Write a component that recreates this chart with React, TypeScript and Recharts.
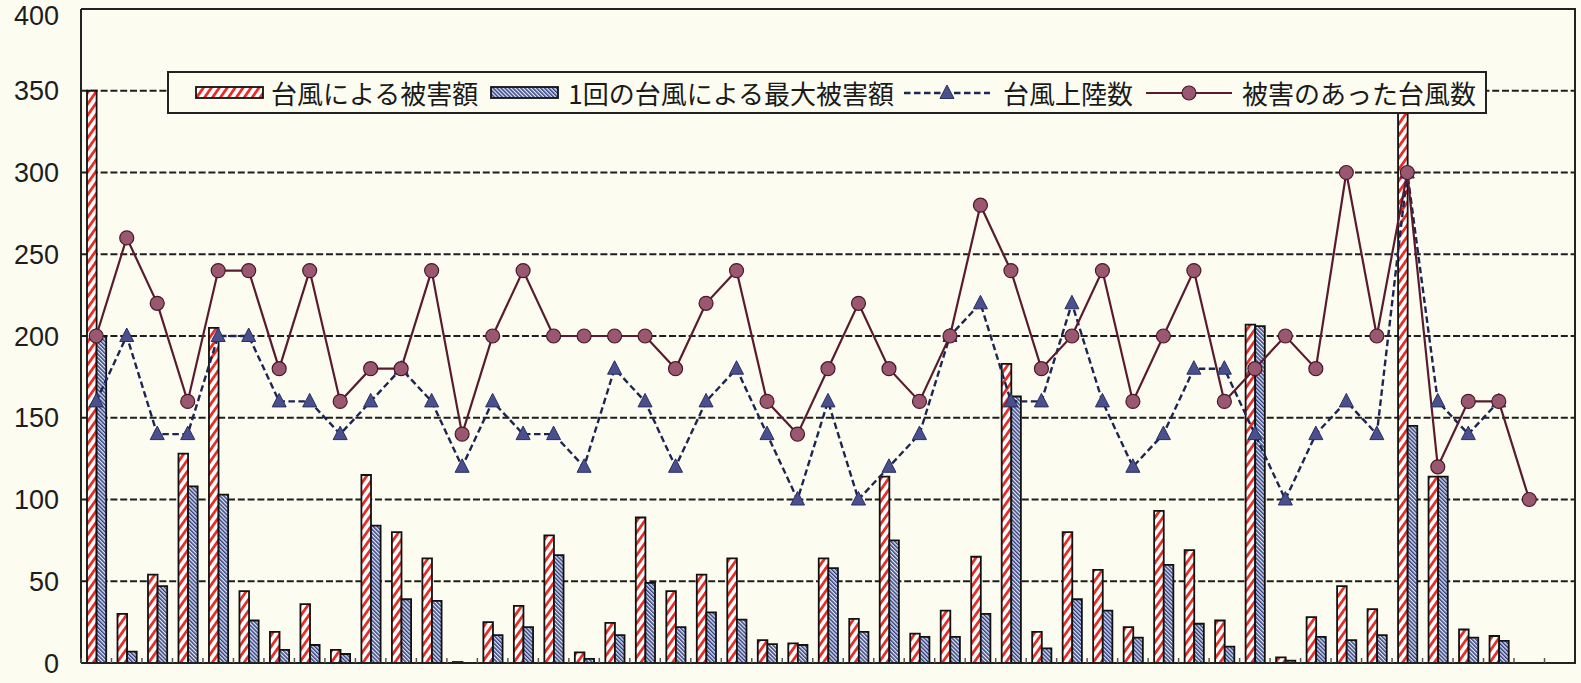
import React from 'react';
import { Bar, CartesianGrid, ComposedChart, Line, XAxis, YAxis } from 'recharts';

// 49 categories (years), labels are not printed on the chart
const categories = [
  '1', '2', '3', '4', '5', '6', '7', '8', '9', '10',
  '11', '12', '13', '14', '15', '16', '17', '18', '19', '20',
  '21', '22', '23', '24', '25', '26', '27', '28', '29', '30',
  '31', '32', '33', '34', '35', '36', '37', '38', '39', '40',
  '41', '42', '43', '44', '45', '46', '47', '48', '49',
];

// 台風による被害額
const totalDamage = [
  350, 30, 54, 128, 205, 44, 19, 36, 8, 115,
  80, 64, 0.6, 25, 35, 78, 6.5, 24.5, 89, 44,
  54, 64, 14, 12, 64, 27, 114, 18, 32, 65,
  183, 19, 80, 57, 22, 93, 69, 26, 207, 3.5,
  28, 47, 33, 350, 114, 20.5, 16.5, null, null,
];

// 1回の台風による最大被害額
const maxDamage = [
  200, 7, 47, 108, 103, 26, 8, 11, 5.5, 84,
  39, 38, 0, 17, 22, 66, 2.5, 17, 49, 22,
  31, 26.5, 11.5, 11, 58, 19, 75, 16, 16, 30,
  163, 9, 39, 32, 15.5, 60, 24, 10, 206, 1.5,
  16, 14, 17, 145, 114, 15.5, 13.5, null, null,
];

// 台風上陸数
const landfalls = [
  160, 200, 140, 140, 200, 200, 160, 160, 140, 160,
  180, 160, 120, 160, 140, 140, 120, 180, 160, 120,
  160, 180, 140, 100, 160, 100, 120, 140, 200, 220,
  160, 160, 220, 160, 120, 140, 180, 180, 140, 100,
  140, 160, 140, 300, 160, 140, 160, null, null,
];

// 被害のあった台風数
const damagingTyphoons = [
  200, 260, 220, 160, 240, 240, 180, 240, 160, 180,
  180, 240, 140, 200, 240, 200, 200, 200, 200, 180,
  220, 240, 160, 140, 180, 220, 180, 160, 200, 280,
  240, 180, 200, 240, 160, 200, 240, 160, 180, 200,
  180, 300, 200, 300, 120, 160, 160, 100, null,
];

const yTicks = [0, 50, 100, 150, 200, 250, 300, 350, 400];

const labels = {
  damage: '台風による被害額',
  max: '1回の台風による最大被害額',
  landfall: '台風上陸数',
  damaging: '被害のあった台風数',
};

const data = categories.map((name, i) => ({
  name,
  damage: totalDamage[i],
  max: maxDamage[i],
  landfall: landfalls[i],
  damaging: damagingTyphoons[i],
}));

const BG = '#fdfcf1';
const INK = '#222222';
const RED = '#e62f28';
const NAVY_STRIPE = '#34407f';
const NAVY_LINE = '#1d2552';
const TRI_FILL = '#4a4f8e';
const MAROON_LINE = '#581c2e';
const CIRCLE_FILL = '#9a5870';
const CIRCLE_EDGE = '#4a1828';

function Patterns({ prefix }: { prefix: string }) {
  return (
    <defs>
      <pattern id={`${prefix}red`} patternUnits="userSpaceOnUse" width={6.5} height={6.5} patternTransform="rotate(35)">
        <rect width={6.5} height={6.5} fill="#ffffff" />
        <rect width={2.8} height={6.5} fill={RED} />
      </pattern>
      <pattern id={`${prefix}blue`} patternUnits="userSpaceOnUse" width={2.8} height={2.8} patternTransform="rotate(-45)">
        <rect width={2.8} height={2.8} fill="#e2e9f6" />
        <rect width={1.5} height={2.8} fill={NAVY_STRIPE} />
      </pattern>
    </defs>
  );
}

const XTick = (props: any) => {
  const { x, y, payload, index } = props;
  const half = payload && typeof payload.offset === 'number' ? payload.offset : 15.25;
  const tx = x - half;
  return <line key={`xt-${index}`} x1={tx} x2={tx} y1={y} y2={y - 5} stroke="#555" strokeWidth={1.5} />;
};

const trianglePoints = (cx: number, cy: number) => `${cx},${cy - 8} ${cx - 7},${cy + 5.5} ${cx + 7},${cy + 5.5}`;

const renderTriangle = (p: any) => {
  if (p.cx == null || p.cy == null || p.value == null) return <g key={`tri-${p.index}`} />;
  return <polygon key={`tri-${p.index}`} points={trianglePoints(p.cx, p.cy)} fill={TRI_FILL} stroke="#283060" strokeWidth={1} />;
};

const renderCircle = (p: any) => {
  if (p.cx == null || p.cy == null || p.value == null) return <g key={`cir-${p.index}`} />;
  return <circle key={`cir-${p.index}`} cx={p.cx} cy={p.cy} r={7} fill={CIRCLE_FILL} stroke={CIRCLE_EDGE} strokeWidth={1.2} />;
};

function Swatch({ kind, style }: { kind: 'red' | 'blue'; style?: React.CSSProperties }) {
  return (
    <svg width={69} height={13} style={{ display: 'block', flex: 'none', ...style }}>
      <Patterns prefix={`lg-${kind}-`} />
      <rect x={1} y={1} width={67} height={11} fill={`url(#lg-${kind}-${kind})`} stroke="#111" strokeWidth={1.8} />
    </svg>
  );
}

function LineSample({ kind, style }: { kind: 'triangle' | 'circle'; style?: React.CSSProperties }) {
  const cx = 43;
  const cy = 11;
  return (
    <svg width={86} height={22} style={{ display: 'block', flex: 'none', ...style }}>
      {kind === 'triangle' ? (
        <>
          <line x1={0} x2={86} y1={cy} y2={cy} stroke={NAVY_LINE} strokeWidth={2.4} strokeDasharray="6.5 3.5" />
          <polygon points={trianglePoints(cx, cy)} fill={TRI_FILL} stroke="#283060" strokeWidth={1} />
        </>
      ) : (
        <>
          <line x1={0} x2={86} y1={cy} y2={cy} stroke={MAROON_LINE} strokeWidth={2.2} />
          <circle cx={cx} cy={cy} r={7} fill={CIRCLE_FILL} stroke={CIRCLE_EDGE} strokeWidth={1.2} />
        </>
      )}
    </svg>
  );
}

function LegendBox() {
  return (
    <div
      style={{
        position: 'absolute',
        left: 167,
        top: 71,
        width: 1320,
        height: 43,
        boxSizing: 'border-box',
        border: `2px solid ${INK}`,
        background: BG,
        display: 'flex',
        alignItems: 'center',
        paddingLeft: 26,
        fontFamily: '"Noto Sans CJK JP", sans-serif',
        fontSize: 26,
        lineHeight: '30px',
        color: '#1a1a1a',
        whiteSpace: 'nowrap',
      }}
    >
      <Swatch kind="red" />
      <span style={{ marginLeft: 7 }}>{labels.damage}</span>
      <Swatch kind="blue" style={{ marginLeft: 12 }} />
      <span style={{ marginLeft: 9 }}>{labels.max}</span>
      <LineSample kind="triangle" style={{ marginLeft: 10 }} />
      <span style={{ marginLeft: 13 }}>{labels.landfall}</span>
      <LineSample kind="circle" style={{ marginLeft: 13 }} />
      <span style={{ marginLeft: 10 }}>{labels.damaging}</span>
    </div>
  );
}

export default function App() {
  const axisStroke = { stroke: INK, strokeWidth: 2 };
  return (
    <div style={{ position: 'absolute', left: 0, top: 0, width: 1581, height: 683, background: BG, overflow: 'hidden' }}>
      <ComposedChart width={1581} height={683} data={data} margin={{ top: 9, right: 6, bottom: 0, left: 0 }} barGap={0}>
        <Patterns prefix="bar-" />
        <CartesianGrid vertical={false} stroke="#1e1e1e" strokeWidth={2.2} strokeDasharray="7 2.8" />
        <XAxis
          dataKey="name"
          height={20}
          interval={0}
          tick={<XTick />}
          tickSize={0}
          tickMargin={0}
          tickLine={false}
          axisLine={axisStroke}
        />
        <YAxis
          domain={[0, 400]}
          ticks={yTicks}
          width={81}
          tickSize={0}
          tickMargin={22}
          tickLine={false}
          axisLine={axisStroke}
          tick={{ fontSize: 27, fill: '#1d1d1d', fontFamily: '"Liberation Sans", Arial, sans-serif' }}
        />
        <Bar dataKey="damage" name={labels.damage} barSize={9.6} fill="url(#bar-red)" stroke="#111" strokeWidth={1.8} isAnimationActive={false} />
        <Bar dataKey="max" name={labels.max} barSize={9.6} fill="url(#bar-blue)" stroke="#111" strokeWidth={1.8} isAnimationActive={false} />
        <Line
          dataKey="landfall"
          name={labels.landfall}
          type="linear"
          stroke={NAVY_LINE}
          strokeWidth={2.4}
          strokeDasharray="6.5 3.5"
          dot={renderTriangle}
          activeDot={false}
          isAnimationActive={false}
        />
        <Line
          dataKey="damaging"
          name={labels.damaging}
          type="linear"
          stroke={MAROON_LINE}
          strokeWidth={2.2}
          dot={renderCircle}
          activeDot={false}
          isAnimationActive={false}
        />
      </ComposedChart>
      {/* plot frame: top and right edges */}
      <div
        style={{
          position: 'absolute',
          left: 81,
          top: 8,
          width: 1495,
          height: 656,
          boxSizing: 'border-box',
          borderTop: `2px solid ${INK}`,
          borderRight: `2px solid ${INK}`,
          pointerEvents: 'none',
        }}
      />
      <LegendBox />
    </div>
  );
}
